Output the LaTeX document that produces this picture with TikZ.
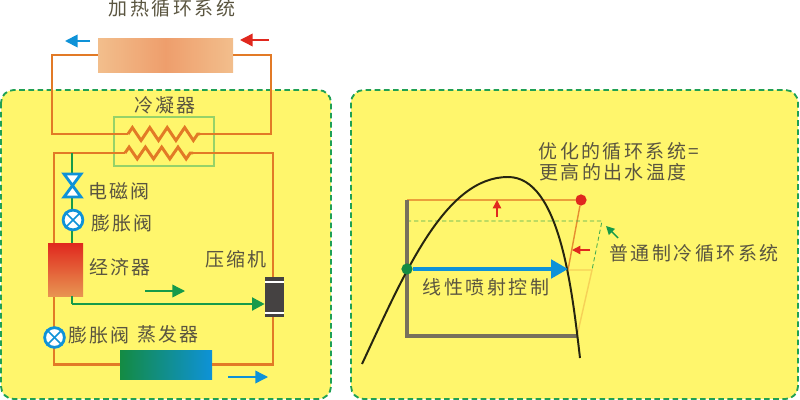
\documentclass[tikz,border=0pt]{standalone}
\usepackage{xcolor}
\usepackage{fontspec}
\usepackage{tikz}
\usetikzlibrary{decorations.pathmorphing}
\usetikzlibrary{arrows.meta}
\newfontfamily\cjk[LetterSpace=13]{Noto Sans CJK SC}
\definecolor{panelYellow}{HTML}{FFF66C}
\definecolor{panelGreen}{HTML}{1FA055}
\definecolor{pipeOrange}{HTML}{E27A26}
\definecolor{lineGreen}{HTML}{169A4A}
\definecolor{flowBlue}{HTML}{0E92D8}
\definecolor{flowRed}{HTML}{E0281E}
\definecolor{labelGray}{HTML}{5A5540}
\definecolor{heatEdge}{HTML}{F2BE8C}
\definecolor{heatMid}{HTML}{EE9E6C}
\definecolor{compDark}{HTML}{454242}
\definecolor{frameGray}{HTML}{77705C}
\definecolor{condGreen}{HTML}{96D268}
\tikzset{
    panel/.style={draw=panelGreen,fill=panelYellow,line width=1.3pt,dash pattern=on 4pt off 2.5pt,rounded corners=9pt},
    pipe/.style={draw=pipeOrange,line width=2.1pt},
    greenpipe/.style={draw=lineGreen,line width=2.1pt},
    coil/.style={pipe,decorate,decoration={zigzag,amplitude=4.6pt,segment length=12.4pt}},
    label/.style={font=\cjk\fontsize{13.5}{13.5}\selectfont,text=labelGray,inner sep=0pt},
    expvalve/.style={circle,draw=flowBlue,fill=white,line width=2pt,minimum size=14pt,inner sep=0pt},
    flow/.style={line width=1pt,-{Triangle[length=9pt,width=9pt]}},
    smallflow/.style={line width=1pt,-{Triangle[length=6pt,width=6pt]}}
}

\begin{document}
\begin{tikzpicture}[x=0.025cm,y=-0.025cm]
    \useasboundingbox (0,0) rectangle (800,400);

    % draw panels
    \path[panel] (1,90) rectangle (331,399);
    \path[panel] (351,90) rectangle (798,399);

    % draw condenser
    \node[draw=condGreen,line width=0.8pt,minimum width=100*0.025cm,minimum height=49*0.025cm,inner sep=0pt] (condenser) at (164,141.5) {};
    \node[label] (condlabel) at (165,105) {冷凝器};

    % draw heating loop
    \node[minimum width=135*0.025cm,minimum height=34*0.025cm,inner sep=0pt,left color=heatEdge,right color=heatEdge,middle color=heatMid] (heater) at (165.5,56) {};
    \coordinate (heatL) at (52,55);
    \coordinate (heatR) at (271,55);
    \coordinate (coilUpL) at (128,134);
    \coordinate (coilUpR) at (200,134);
    \draw[pipe] (heater.west |- heatL) -- (heatL) |- (coilUpL);
    \draw[coil] (coilUpL) -- (coilUpR);
    \draw[pipe] (coilUpR) -| (heatR) -- (heater.east |- heatR);
    \draw[flow,flowBlue,line width=1.3pt] (90,41) -- (65,41);
    \draw[flow,flowRed] (269,40) -- (240,40);
    \node[label] (heatlabel) at (172,8) {加热循环系统};

    % draw refrigerant loop
    \coordinate (coilLoL) at (125,153);
    \coordinate (coilLoR) at (193,153);
    \coordinate (loopTL) at (54,153);
    \coordinate (loopTR) at (273,153);
    \node[minimum width=92*0.025cm,minimum height=29*0.025cm,inner sep=0pt,left color=lineGreen!90!black,right color=flowBlue] (evaporator) at (166,364.5) {};
    \node[fill=compDark,minimum width=19*0.025cm,minimum height=40*0.025cm,inner sep=0pt] (compressor) at (274.5,297) {};
    \draw[pipe] (evaporator.west) -| (loopTL) -- (coilLoL);
    \draw[coil,decoration={zigzag,amplitude=4.2pt,segment length=11.6pt}] (coilLoL) -- (coilLoR);
    \draw[pipe] (coilLoR) -- (loopTR) -- (compressor.north -| loopTR);
    \draw[pipe] (compressor.south -| loopTR) |- (evaporator.east);
    \foreach \y in {282,313}
        \draw[white,line width=1.4pt] (265,\y) -- (284,\y);

    % draw economizer branch
    \node[minimum width=35*0.025cm,minimum height=53*0.025cm,inner sep=0pt,top color=flowRed,bottom color=pipeOrange!80!white] (economizer) at (65.5,269.5) {};
    \coordinate (branchTop) at (72,153);
    \coordinate (branchMid) at (72,304);
    \draw[greenpipe] (branchTop) -- (economizer.north -| branchTop);
    \draw[greenpipe] (economizer.south -| branchTop) -- (branchMid);
    \draw[greenpipe,-{Triangle[length=9pt,width=9pt]}] (branchMid) -- (compressor.west |- branchMid);
    \draw[flow,lineGreen] (145,291) -- (185,291);
    \draw[flow,flowBlue] (228,377) -- (268,377);

    % draw valves
    \coordinate (solenoid) at (72.5,185.5);
    \draw[flowBlue,fill=white,line width=2pt,line join=miter] (64,174) -- (81,174) -- (solenoid) -- (81,197) -- (64,197) -- (solenoid) -- cycle;
    \node[expvalve] (valveA) at (73,220) {};
    \node[expvalve] (valveB) at (54.5,337.5) {};
    \foreach \v in {valveA,valveB} {
        \draw[flowBlue,line width=1.1pt] (\v.north west) -- (\v.south east);
        \draw[flowBlue,line width=1.1pt] (\v.north east) -- (\v.south west);
    }

    % draw component labels
    \node[label] (sollabel) at (119,191) {电磁阀};
    \node[label] (valveAlabel) at (122,223) {膨胀阀};
    \node[label] (econlabel) at (120,267) {经济器};
    \node[label] (complabel) at (236,259) {压缩机};
    \node[label] (valveBlabel) at (99,335) {膨胀阀};
    \node[label] (evaplabel) at (168,334) {蒸发器};

    % draw optimized cycle
    \coordinate (cornerTL) at (407,200);
    \coordinate (cornerBL) at (407,336);
    \coordinate (cornerBR) at (577,336);
    \coordinate (crossR) at (568,270);
    \coordinate (plainR) at (592,270);
    \coordinate (plainT) at (602,221);
    \coordinate (plainL) at (407,221);
    \node[circle,fill=flowRed,minimum size=8pt,inner sep=0pt] (hotpoint) at (581,200) {};
    \draw[pipeOrange!70!panelYellow,line width=1.3pt] (cornerTL) -- (hotpoint);
    \draw[pipeOrange!85!panelYellow,line width=1pt] (hotpoint) -- (crossR);
    \draw[pipeOrange!30!panelYellow,line width=1pt] (crossR) -- (plainR) -- (cornerBR);
    \draw[lineGreen!80!panelYellow,line width=0.6pt,densely dashed] (plainL) -- (plainT) -- (plainR);
    \draw[frameGray,line width=2.6pt] (cornerTL) -- (cornerBL) -- (cornerBR);

    % draw saturation curve
    \draw[black!85!panelYellow,line width=1.4pt] (362,364) .. controls (405,272) and (445,177) .. (508,177) .. controls (560,177) and (572,290) .. (580,358);

    % draw injection arrow
    \node[circle,fill=lineGreen!90!black,minimum size=8pt,inner sep=0pt] (inject) at (407,269) {};
    \draw[flowBlue,line width=2.8pt,-{Triangle[length=12pt,width=13pt]}] (inject) -- (crossR |- inject);
    \node[label] (injectlabel) at (486,287) {线性喷射控制};

    % draw small arrows
    \draw[smallflow,flowRed] (497,217) -- (497,200);
    \draw[smallflow,flowRed] (590,250) -- (572,250);
    \draw[smallflow,lineGreen] (618,238) -- (606,226);

    % draw cycle labels
    \node[label] (optlabelA) at (619,151) {优化的循环系统=};
    \node[label] (optlabelB) at (613,172) {更高的出水温度};
    \node[label] (plainlabel) at (694,253) {普通制冷循环系统};
\end{tikzpicture}
\end{document}
